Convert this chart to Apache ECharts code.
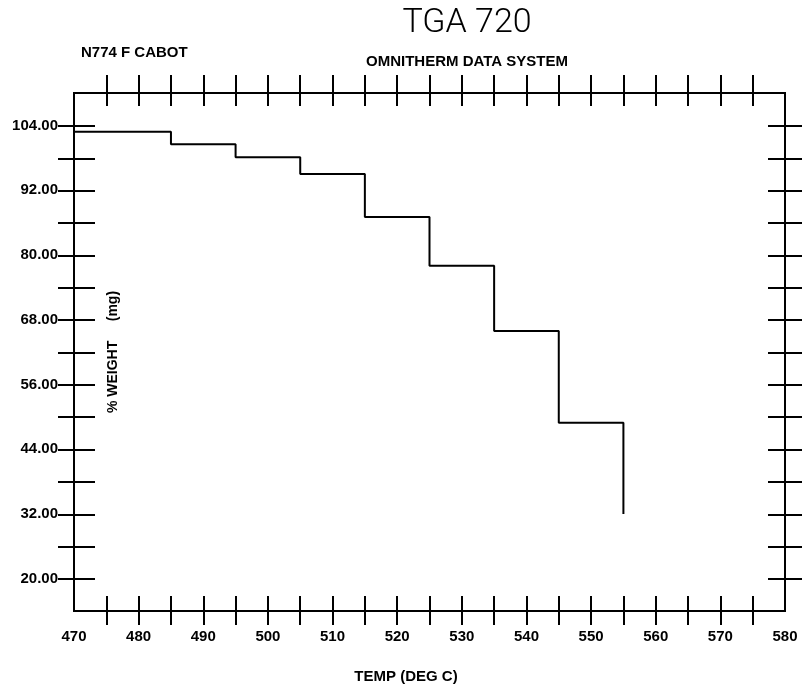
<!DOCTYPE html>
<html>
<head>
<meta charset="utf-8">
<script src="https://cdn.jsdelivr.net/npm/echarts@6/dist/echarts.min.js"></script>
<style>
  html, body { margin: 0; padding: 0; background: #fff; }
  #chart { width: 802px; height: 688px; }
</style>
</head>
<body>
<div id="chart"></div>
<script>
// step points: temperature (deg C) and weight
const temps = [470, 485, 495, 505, 515, 525, 535, 545, 555]
const weights = [102.8, 100.5, 98.1, 95.0, 87.0, 78.0, 65.9, 48.9, 32.0]
const yLabels = [20, 32, 44, 56, 68, 80, 92, 104]

const labelFont = 'Liberation Sans, Arial, sans-serif'

const chart = echarts.init(document.getElementById('chart'))

const hidden = { show: false }

const option = {
  backgroundColor: '#fff',
  animation: false,
  title: [
    {
      text: 'TGA 720',
      left: 462, top: 1, textAlign: 'center',
      textStyle: { fontFamily: 'Roboto, DejaVu Sans, sans-serif', fontWeight: 300, fontSize: 34, color: '#000' }
    },
    {
      text: 'N774 F CABOT',
      left: 76, top: 40,
      textStyle: { fontFamily: labelFont, fontWeight: 'bold', fontSize: 15, color: '#000' }
    },
    {
      text: 'OMNITHERM DATA SYSTEM',
      left: 462, top: 49, textAlign: 'center',
      textStyle: { fontFamily: labelFont, fontWeight: 'bold', fontSize: 15, color: '#000' }
    },
    {
      text: 'TEMP (DEG C)',
      left: 401, top: 664, textAlign: 'center',
      textStyle: { fontFamily: labelFont, fontWeight: 'bold', fontSize: 15, color: '#000' }
    }
  ],
  grid: [
    // main plot frame
    { left: 74, right: 17, top: 93, bottom: 77, show: true, borderColor: '#000', borderWidth: 2, containLabel: false, outerBoundsMode: 'none' },
    // x ticks 475..575
    { left: 106.3, right: 49.3, top: 93, bottom: 77, containLabel: false, outerBoundsMode: 'none' },
    // y ticks 20..104
    { left: 74, right: 17, top: 126, bottom: 109, containLabel: false, outerBoundsMode: 'none' }
  ],
  xAxis: [
    {
      gridIndex: 0, type: 'value', min: 470, max: 580, interval: 10,
      axisLine: hidden, axisTick: hidden, splitLine: hidden,
      axisLabel: { margin: 18, color: '#000', fontFamily: labelFont, fontWeight: 'bold', fontSize: 15 }
    },
    {
      gridIndex: 1, type: 'value', position: 'bottom', min: 475, max: 575, interval: 5, offset: 14,
      axisLine: hidden, splitLine: hidden, axisLabel: hidden,
      axisTick: { inside: true, length: 29, lineStyle: { color: '#000', width: 2 } }
    },
    {
      gridIndex: 1, type: 'value', position: 'top', min: 475, max: 575, interval: 5, offset: 18,
      axisLine: hidden, splitLine: hidden, axisLabel: hidden,
      axisTick: { inside: true, length: 31, lineStyle: { color: '#000', width: 2 } }
    },
    { gridIndex: 2, type: 'value', min: 470, max: 580, show: false }
  ],
  yAxis: [
    {
      gridIndex: 0, type: 'value', min: 14, max: 110, interval: 6,
      axisLine: hidden, axisTick: hidden, splitLine: hidden,
      axisLabel: {
        margin: 16, color: '#000', fontFamily: labelFont, fontWeight: 'bold', fontSize: 15,
        formatter: v => yLabels.includes(v) ? v.toFixed(2) : ''
      },
      name: '% WEIGHT     (mg)',
      nameLocation: 'middle', nameGap: -46, nameRotate: 90,
      nameTextStyle: { color: '#000', fontFamily: labelFont, fontWeight: 'bold', fontSize: 14 }
    },
    {
      gridIndex: 2, type: 'value', position: 'left', min: 20, max: 104, interval: 6, offset: 16,
      axisLine: hidden, splitLine: hidden, axisLabel: hidden,
      axisTick: { inside: true, length: 37, lineStyle: { color: '#000', width: 2 } }
    },
    {
      gridIndex: 2, type: 'value', position: 'right', min: 20, max: 104, interval: 6, offset: 17,
      axisLine: hidden, splitLine: hidden, axisLabel: hidden,
      axisTick: { inside: true, length: 34, lineStyle: { color: '#000', width: 2 } }
    },
    { gridIndex: 1, type: 'value', min: 14, max: 110, show: false }
  ],
  series: [
    {
      type: 'line',
      xAxisIndex: 0, yAxisIndex: 0,
      step: 'end',
      symbol: 'none',
      data: temps.map((t, i) => [t, weights[i]]),
      lineStyle: { color: '#000', width: 2 }
    }
  ]
}

chart.setOption(option)
</script>
</body>
</html>
